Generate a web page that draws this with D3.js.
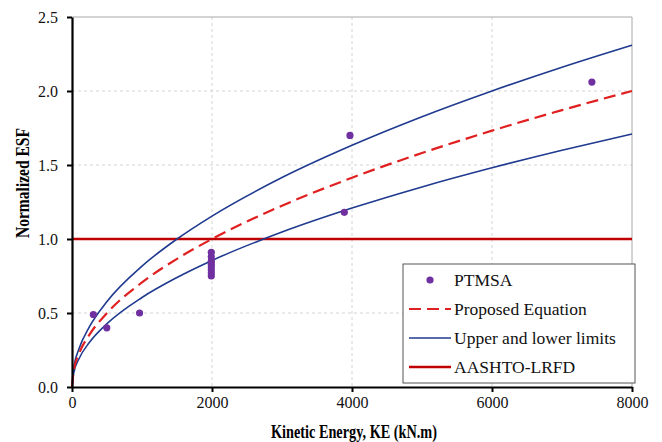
<!DOCTYPE html>
<html>
<head>
	<title>Normalized ESF</title>
	<script src="https://cdn.jsdelivr.net/npm/d3@7/dist/d3.min.js"></script>
	<style>
		body { margin: 0; background: #fff; }
		svg text { font-family: "Liberation Serif", "Times New Roman", serif !important; }
	</style>
</head>
<body>
<script type="text/javascript">
	// PTMSA test points (KE in kN.m, normalized ESF)
	var ptmsaKE  = [305, 497, 965, 1990, 1990, 1990, 1990, 1990, 1990, 1990, 1990, 3890, 3971, 7427];
	var ptmsaESF = [0.49, 0.40, 0.50, 0.75, 0.77, 0.79, 0.81, 0.83, 0.85, 0.88, 0.91, 1.18, 1.70, 2.06];

	// curves
	var curveKE   = [0, 25, 100, 250, 500, 1000, 1500, 2000, 3000, 4000, 5000, 6000, 7000, 8000];
	var proposed  = [0, 0.112, 0.224, 0.354, 0.50, 0.707, 0.866, 1.00, 1.225, 1.414, 1.581, 1.732, 1.871, 2.00];
	var upperLim  = [0, 0.129, 0.258, 0.408, 0.578, 0.817, 1.00, 1.155, 1.415, 1.633, 1.826, 2.00, 2.161, 2.31];
	var lowerLim  = [0, 0.096, 0.191, 0.302, 0.428, 0.605, 0.740, 0.855, 1.047, 1.209, 1.352, 1.481, 1.600, 1.71];
	var aashto    = 1.0;

	var xTicks = [0, 2000, 4000, 6000, 8000];
	var yTicks = [0, 0.5, 1.0, 1.5, 2.0, 2.5];
	var legendLabels = ["PTMSA", "Proposed Equation", "Upper and lower limits", "AASHTO-LRFD"];

	var svgWidth = 662, svgHeight = 442;
	var margin = {left: 72, right: 30, top: 17, bottom: 55};
	var w = svgWidth - margin.left - margin.right,
	    h = svgHeight - margin.top - margin.bottom;

	var svg = d3.select("body").append("svg")
		.attr("width", svgWidth)
		.attr("height", svgHeight);

	var g = svg.append("g")
		.attr("transform", "translate(" + margin.left + "," + margin.top + ")");

	var x = d3.scaleLinear().domain([0, 8000]).range([0, w]);
	var y = d3.scaleLinear().domain([0, 2.5]).range([h, 0]);

	// grid
	g.selectAll(".hgrid").data(yTicks.filter(function(d) { return d > 0 && d < 2.5; }))
		.enter().append("line")
		.attr("x1", 0).attr("x2", w)
		.attr("y1", y).attr("y2", y)
		.attr("stroke", "#d4d4d4").attr("stroke-dasharray", "3,3");
	g.selectAll(".vgrid").data(xTicks.filter(function(d) { return d > 0 && d < 8000; }))
		.enter().append("line")
		.attr("y1", 0).attr("y2", h)
		.attr("x1", x).attr("x2", x)
		.attr("stroke", "#d4d4d4").attr("stroke-dasharray", "3,3");

	// top and right frame
	g.append("path")
		.attr("d", "M0," + y(2.5) + "H" + x(8000) + "V" + y(0))
		.attr("fill", "none").attr("stroke", "#a8a8a8").attr("stroke-width", 1);

	// AASHTO line
	g.append("line")
		.attr("x1", x(0)).attr("x2", x(8000))
		.attr("y1", y(aashto)).attr("y2", y(aashto))
		.attr("stroke", "#c00000").attr("stroke-width", 2.5);

	var line = d3.line()
		.x(function(d) { return x(d[0]); })
		.y(function(d) { return y(d[1]); })
		.curve(d3.curveMonotoneX);

	[upperLim, lowerLim].forEach(function(vals) {
		g.append("path")
			.attr("d", line(d3.zip(curveKE, vals)))
			.attr("fill", "none").attr("stroke", "#1f3a8f").attr("stroke-width", 1.6);
	});

	g.append("path")
		.attr("d", line(d3.zip(curveKE, proposed)))
		.attr("fill", "none").attr("stroke", "#e02020").attr("stroke-width", 2.2)
		.attr("stroke-dasharray", "12,6");

	// points
	g.selectAll(".pt").data(d3.zip(ptmsaKE, ptmsaESF))
		.enter().append("circle")
		.attr("cx", function(d) { return x(d[0]); })
		.attr("cy", function(d) { return y(d[1]); })
		.attr("r", 3.6)
		.attr("fill", "#7030a0");

	// axes
	var xAxis = g.append("g")
		.attr("transform", "translate(0," + h + ")")
		.call(d3.axisBottom(x).tickValues(xTicks).tickFormat(d3.format("d")).tickSize(5).tickSizeOuter(0).tickPadding(5));
	var yAxis = g.append("g")
		.call(d3.axisLeft(y).tickValues(yTicks).tickFormat(d3.format(".1f")).tickSize(5).tickSizeOuter(0).tickPadding(9));

	[xAxis, yAxis].forEach(function(a) {
		a.attr("font-family", null);
		a.select(".domain").attr("stroke", "#000").attr("stroke-width", 2.2);
		a.selectAll(".tick line").attr("stroke", "#000").attr("stroke-width", 2);
		a.selectAll("text").style("font-size", "16px").attr("fill", "#111");
	});

	// axis titles
	svg.append("text")
		.attr("x", 271).attr("y", 438)
		.attr("textLength", 166).attr("lengthAdjust", "spacingAndGlyphs")
		.style("font-size", "18px").attr("font-weight", "bold")
		.text("Kinetic Energy, KE (kN.m)");

	svg.append("text")
		.attr("transform", "translate(29,238) rotate(-90)")
		.attr("textLength", 110).attr("lengthAdjust", "spacingAndGlyphs")
		.style("font-size", "18px").attr("font-weight", "bold")
		.text("Normalized ESF");

	// legend
	var lg = svg.append("g").attr("transform", "translate(403,264)");
	lg.append("rect")
		.attr("width", 232).attr("height", 119)
		.attr("fill", "#fff").attr("stroke", "#555").attr("stroke-width", 1);

	var rows = lg.selectAll(".row").data(legendLabels)
		.enter().append("g")
		.attr("transform", function(d, i) { return "translate(0," + (16 + i * 29) + ")"; });

	rows.append("text")
		.attr("x", 51).attr("y", 6)
		.style("font-size", "17.5px").attr("fill", "#111")
		.text(function(d) { return d; });

	rows.each(function(d, i) {
		var r = d3.select(this);
		if (i === 0) {
			r.append("circle").attr("cx", 27).attr("cy", 0).attr("r", 3.6).attr("fill", "#7030a0");
		} else if (i === 1) {
			r.append("line").attr("x1", 6).attr("x2", 48).attr("y1", 0).attr("y2", 0)
				.attr("stroke", "#e02020").attr("stroke-width", 2.2).attr("stroke-dasharray", "12,6");
		} else if (i === 2) {
			r.append("line").attr("x1", 6).attr("x2", 48).attr("y1", 0).attr("y2", 0)
				.attr("stroke", "#1f3a8f").attr("stroke-width", 1.6);
		} else {
			r.append("line").attr("x1", 6).attr("x2", 48).attr("y1", 0).attr("y2", 0)
				.attr("stroke", "#c00000").attr("stroke-width", 2.5);
		}
	});
</script>
</body>
</html>
